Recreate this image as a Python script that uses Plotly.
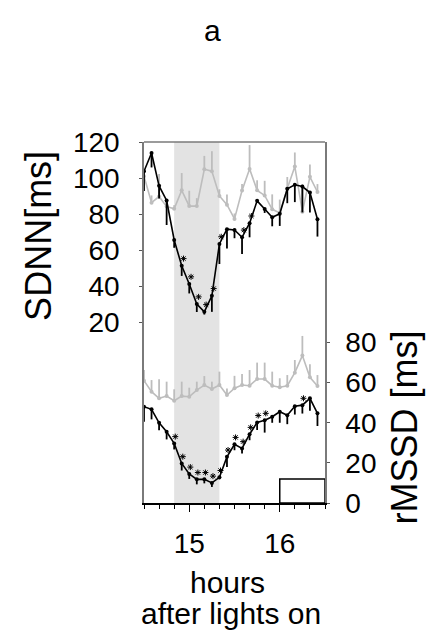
import plotly.graph_objects as go

# Sampling times (minutes after lights on), 5-min bins
minutes = [870, 875, 880, 885, 890, 895, 900, 905, 910, 915, 920, 925,
           930, 935, 940, 945, 950, 955, 960, 965, 970, 975, 980, 985]
hours = [m / 60 for m in minutes]

# SDNN [ms]
sdnn_dark = [103.8, 113.9, 95.7, 87.6, 65.7, 51.4, 41.3, 30.2, 25.9, 34.8, 63.5, 71.7,
             71.3, 67.2, 75.0, 87.4, 82.9, 78.3, 80.2, 94.1, 96.3, 95.3, 92.0, 77.2]
sdnn_dark_sem = [11.0, 8.0, 7.0, 13.6, 4.3, 5.6, 5.2, 4.4, 1.5, 8.9, 11.1, 10.7,
                 4.6, 9.2, 7.8, 1.0, 2.2, 5.0, 6.7, 8.0, 9.6, 14.3, 11.0, 9.6]
sdnn_light = [101.0, 86.4, 89.8, 84.2, 83.0, 93.2, 84.5, 84.5, 104.9, 103.8, 90.1, 85.3,
              77.4, 93.1, 105.1, 93.2, 90.4, 82.7, 80.7, 94.3, 106.4, 81.4, 100.7, 92.3]
sdnn_light_sem = [3.0, 4.0, 12.5, 3.0, 2.0, 9.6, 8.5, 4.4, 7.4, 11.1, 3.7, 5.6,
                  3.0, 3.7, 13.2, 5.6, 8.1, 8.3, 7.4, 6.3, 7.8, 15.2, 6.9, 4.4]
sdnn_sig = [5, 6, 7, 8, 9, 10, 13, 14]

# rMSSD [ms]
rmssd_dark = [48.0, 46.7, 40.0, 35.5, 29.7, 19.7, 14.5, 11.8, 11.8, 10.0, 12.8, 23.0,
              29.3, 27.2, 34.3, 40.2, 41.3, 43.0, 45.5, 43.8, 48.3, 48.8, 52.2, 44.7]
rmssd_dark_sem = [7.5, 5.0, 3.7, 3.8, 3.0, 3.5, 2.5, 2.5, 2.0, 2.0, 1.0, 5.0,
                  3.0, 2.5, 3.0, 3.8, 6.2, 3.0, 5.5, 4.5, 4.2, 4.2, 6.2, 6.3]
rmssd_light = [61.0, 55.5, 52.2, 53.3, 51.0, 53.3, 53.0, 56.3, 58.8, 56.8, 58.8, 53.8,
               57.2, 58.8, 58.5, 61.8, 61.8, 58.5, 57.7, 58.5, 65.0, 73.5, 62.7, 58.3]
rmssd_light_sem = [5.3, 5.8, 9.5, 7.2, 5.7, 7.2, 4.5, 4.2, 4.5, 3.7, 6.7, 3.3,
                   6.2, 5.5, 7.8, 8.2, 8.2, 7.0, 4.5, 5.3, 6.3, 9.8, 6.5, 5.5]
rmssd_sig = [4, 5, 6, 7, 8, 9, 10, 11, 12, 13, 14, 15, 16, 21]

shade_span = [14.8333, 15.3333]
box_span = [16.0, 16.5]
box_height = 12

sdnn_ticks = [20, 40, 60, 80, 100, 120]
rmssd_ticks = [0, 20, 40, 60, 80]

DARK = "#000000"
LIGHT = "#bdbdbd"
FRAME = "#7a7a7a"
FONT = "Liberation Sans, Arial, sans-serif"

fig = go.Figure()


def series(y, sem, color, yaxis, up):
    zeros = [0] * len(sem)
    return go.Scatter(
        x=hours, y=y, yaxis=yaxis, mode="lines+markers",
        line=dict(color=color, width=1.6),
        marker=dict(color=color, size=4),
        error_y=dict(type="data", symmetric=False,
                     array=sem if up else zeros,
                     arrayminus=zeros if up else sem,
                     color=color, thickness=1.8, width=0),
        cliponaxis=False, showlegend=False, hoverinfo="skip",
    )


def stars(idx, y, yaxis, lift, nudge):
    # asterisks drawn just above-right of the significant points
    return go.Scatter(
        x=[hours[i] + nudge for i in idx], y=[y[i] + lift for i in idx], yaxis=yaxis,
        mode="markers",
        marker=dict(symbol="asterisk-open", size=5, color=DARK,
                    line=dict(color=DARK, width=1)),
        cliponaxis=False, showlegend=False, hoverinfo="skip",
    )


fig.add_trace(series(sdnn_light, sdnn_light_sem, LIGHT, "y", True))
fig.add_trace(series(rmssd_light, rmssd_light_sem, LIGHT, "y2", True))
fig.add_trace(series(sdnn_dark, sdnn_dark_sem, DARK, "y", False))
fig.add_trace(series(rmssd_dark, rmssd_dark_sem, DARK, "y2", False))
fig.add_trace(stars(sdnn_sig, sdnn_dark, "y", 4.0, 0.02))
fig.add_trace(stars(rmssd_sig, rmssd_dark, "y2", 3.4, 0.012))

# shaded interval and lights box
fig.add_shape(type="rect", xref="x", yref="paper", x0=shade_span[0], x1=shade_span[1],
              y0=0, y1=1, fillcolor="#e3e3e3", line=dict(width=0), layer="below")
fig.add_shape(type="rect", xref="x", yref="y2", x0=box_span[0], x1=box_span[1],
              y0=0, y1=box_height, fillcolor="rgba(0,0,0,0)",
              line=dict(color=DARK, width=1.5), layer="above")
# top frame line
fig.add_shape(type="line", xref="paper", yref="paper", x0=0, x1=1, y0=1, y1=1,
              line=dict(color=FRAME, width=1.5))

tickfont = dict(family=FONT, size=28, color="#000")

fig.update_layout(
    width=427, height=633,
    margin=dict(l=144, r=102, t=142, b=130),
    paper_bgcolor="white", plot_bgcolor="white",
    font=dict(family=FONT, color="#000"),
    xaxis=dict(range=[14.5, 16.5], tickvals=[15, 16], ticktext=["15", "16"],
               ticks="outside", ticklen=7, tickcolor="#000", tickwidth=1,
               showline=True, linecolor="#000", linewidth=1.5,
               showgrid=False, zeroline=False, tickfont=tickfont,
               ticklabelstandoff=8,
               minor=dict(tick0=14.5, dtick=1 / 6, ticks="outside", ticklen=4,
                          tickcolor="#000", showgrid=False)),
    yaxis=dict(range=[-80, 120], tickvals=sdnn_ticks, ticks="outside", ticklen=3,
               tickcolor="#555", showline=True, linecolor=FRAME, linewidth=1.5,
               showgrid=False, zeroline=False, tickfont=tickfont,
               ticklabelstandoff=14),
    yaxis2=dict(range=[0, 180], tickvals=rmssd_ticks, overlaying="y", side="right",
                ticks="outside", ticklen=3, tickcolor="#555", showline=True,
                linecolor=FRAME, linewidth=1.5, showgrid=False, zeroline=False,
                tickfont=tickfont, ticklabelstandoff=10),
)

lab = dict(family=FONT, size=30, color="#000")
axlab = dict(family=FONT, size=36, color="#000")
common = dict(xref="paper", yref="paper", showarrow=False,
              xanchor="center", yanchor="middle")
fig.add_annotation(text="a", x=0.38, y=1.31, font=lab, **common)
fig.add_annotation(text="SDNN[ms]", x=-0.58, y=0.74, textangle=-90, font=axlab, **common)
fig.add_annotation(text="rMSSD [ms]", x=1.44, y=0.208, textangle=-90, font=axlab, **common)
fig.add_annotation(text="hours", x=0.459, y=-0.22, font=lab, **common)
fig.add_annotation(text="after lights on", x=0.48, y=-0.306, font=lab, **common)

fig.write_html("out.html")
